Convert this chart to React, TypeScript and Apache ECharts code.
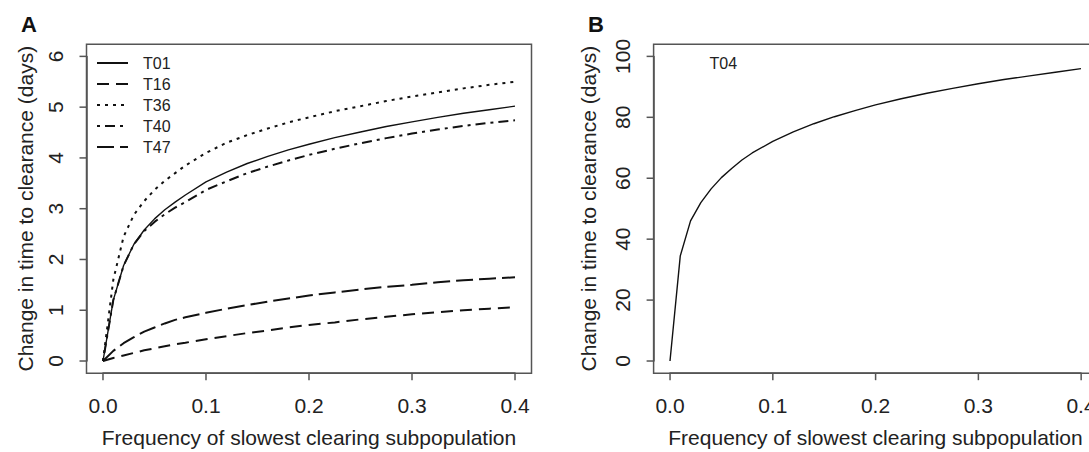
import React, { useEffect, useRef } from "react";
import * as echarts from "echarts";

const xValues = [0, 0.01, 0.02, 0.03, 0.04, 0.05, 0.06, 0.07, 0.08, 0.1, 0.12, 0.14, 0.16, 0.18, 0.2, 0.225, 0.25, 0.275, 0.3, 0.325, 0.35, 0.375, 0.4];
const t01 = [0, 1.2, 1.88, 2.3, 2.58, 2.8, 2.98, 3.13, 3.27, 3.53, 3.72, 3.89, 4.03, 4.16, 4.27, 4.4, 4.51, 4.62, 4.71, 4.8, 4.88, 4.95, 5.02];
const t16 = [0, 0.06, 0.11, 0.16, 0.21, 0.25, 0.29, 0.33, 0.36, 0.43, 0.49, 0.55, 0.6, 0.66, 0.71, 0.76, 0.82, 0.87, 0.92, 0.96, 1.0, 1.03, 1.06];
const t36 = [0, 1.6, 2.45, 2.88, 3.15, 3.37, 3.55, 3.7, 3.85, 4.1, 4.3, 4.45, 4.58, 4.7, 4.8, 4.92, 5.02, 5.12, 5.21, 5.29, 5.37, 5.44, 5.5];
const t40 = [0, 1.2, 1.88, 2.3, 2.56, 2.74, 2.89, 3.02, 3.13, 3.37, 3.54, 3.7, 3.83, 3.95, 4.06, 4.18, 4.29, 4.39, 4.48, 4.56, 4.63, 4.69, 4.74];
const t47 = [0, 0.2, 0.35, 0.47, 0.58, 0.66, 0.74, 0.81, 0.86, 0.95, 1.03, 1.1, 1.17, 1.23, 1.29, 1.35, 1.41, 1.46, 1.5, 1.55, 1.59, 1.62, 1.65];
const t04 = [0, 34.5, 46, 52, 56.5, 60.2, 63.2, 66, 68.3, 72.1, 75.2, 77.9, 80.2, 82.2, 84.1, 86.1, 87.9, 89.5, 91.0, 92.4, 93.6, 94.8, 96.0];

const xTicks = [0, 0.1, 0.2, 0.3, 0.4];
const yTicksA = [0, 1, 2, 3, 4, 5, 6];
const yTicksB = [0, 20, 40, 60, 80, 100];
const xRange = [0, 0.4];
const yRangeA = [0, 6];
const yRangeB = [0, 100];

const seriesNamesA = ["T01", "T16", "T36", "T40", "T47"];
const seriesValuesA = [t01, t16, t36, t40, t47];
const dashA: any[] = ["solid", [12, 7], [3, 5], [3, 5, 10, 5], [17, 6]];

const xTitle = "Frequency of slowest clearing subpopulation";
const yTitle = "Change in time to clearance (days)";

const FONT = "'Liberation Sans', Arial, Helvetica, sans-serif";
const TEXT = "#222";
const BOX = "#555";
const TICK_LEN = 7;

const BOX_A = { left: 86.5, top: 44.2, width: 445, height: 329 };
const BOX_B = { left: 653.6, top: 44.2, width: 444, height: 329 };

// R-style 4% axis extension
function ext(r: number[]) {
  const d = (r[1] - r[0]) * 0.04;
  return [r[0] - d, r[1] + d];
}

function pairs(ys: number[]) {
  return xValues.map((x, i) => [x, ys[i]]);
}

function xAxisFor(gridIndex: number) {
  return {
    type: "value",
    gridIndex,
    min: xRange[0],
    max: xRange[1],
    interval: 0.1,
    offset: 12,
    axisLine: { show: true, onZero: false, lineStyle: { color: BOX, width: 1.5 } },
    splitLine: { show: false },
    axisTick: { show: false },
    axisLabel: {
      formatter: (v: number) => v.toFixed(1),
      fontSize: 21,
      fontFamily: FONT,
      color: TEXT,
      margin: 22,
      showMinLabel: true,
      showMaxLabel: true,
    },
    name: xTitle,
    nameLocation: "middle",
    nameGap: 54,
    nameTextStyle: { fontSize: 21, fontFamily: FONT, color: TEXT },
  };
}

function yAxisFor(gridIndex: number, range: number[], step: number, nameGap: number) {
  return {
    type: "value",
    gridIndex,
    min: range[0],
    max: range[1],
    interval: step,
    offset: 16,
    axisLine: { show: true, onZero: false, lineStyle: { color: BOX, width: 1.5 } },
    splitLine: { show: false },
    axisTick: { show: false },
    axisLabel: {
      rotate: 90,
      fontSize: 21,
      fontFamily: FONT,
      color: TEXT,
      margin: 21,
      showMinLabel: true,
      showMaxLabel: true,
    },
    name: yTitle,
    nameLocation: "middle",
    nameGap,
    nameTextStyle: { fontSize: 21, fontFamily: FONT, color: TEXT },
  };
}

function hiddenAxis(gridIndex: number, r: number[]) {
  const e = ext(r);
  return { type: "value", gridIndex, show: false, min: e[0], max: e[1] };
}

// tick marks as thin rect symbols sitting on the frame, offset outward
function tickMarks(gridIndex: number, yRange: number[], yTicks: number[]) {
  const ex = ext(xRange);
  const ey = ext(yRange);
  const common = {
    type: "scatter",
    xAxisIndex: gridIndex,
    yAxisIndex: gridIndex,
    symbol: "rect",
    clip: false,
    silent: true,
    z: 5,
    itemStyle: { color: BOX, opacity: 1 },
    emphasis: { disabled: true },
    tooltip: { show: false },
  };
  return [
    {
      ...common,
      data: xTicks.map((v) => [v, ey[0]]),
      symbolSize: [1.5, TICK_LEN],
      symbolOffset: [0, TICK_LEN / 2],
    },
    {
      ...common,
      data: yTicks.map((v) => [ex[0], v]),
      symbolSize: [TICK_LEN, 1.5],
      symbolOffset: [-TICK_LEN / 2, 0],
    },
  ];
}

export default function App() {
  const ref = useRef<HTMLDivElement>(null);
  useEffect(() => {
    if (!ref.current) return;
    const chart = echarts.init(ref.current, undefined, { renderer: "svg" });
    const plain = { show: false, containLabel: false, outerBoundsMode: "none" };
    const boxGrid = {
      show: true,
      borderColor: BOX,
      borderWidth: 1.5,
      backgroundColor: "transparent",
      containLabel: false,
      outerBoundsMode: "none",
    };
    const seriesA = seriesNamesA.map((name, i) => ({
      name,
      type: "line",
      xAxisIndex: 0,
      yAxisIndex: 0,
      data: pairs(seriesValuesA[i]),
      showSymbol: false,
      symbol: "none",
      smooth: false,
      clip: false,
      lineStyle: { color: "#111", width: i === 0 ? 1.4 : 2, type: dashA[i] },
      itemStyle: { color: "#111" },
      emphasis: { disabled: true },
    }));
    const option: any = {
      animation: false,
      backgroundColor: "#fff",
      title: [
        { text: "A", left: 16, top: 8, textStyle: { fontSize: 22, fontWeight: "bold", fontFamily: FONT, color: "#111" } },
        { text: "B", left: 583, top: 8, textStyle: { fontSize: 22, fontWeight: "bold", fontFamily: FONT, color: "#111" } },
      ],
      legend: [
        {
          data: seriesNamesA,
          orient: "vertical",
          left: 96,
          top: 55,
          padding: 0,
          itemWidth: 31,
          itemHeight: 14,
          itemGap: 5,
          itemStyle: { opacity: 0 },
          lineStyle: { width: 2 },
          textStyle: { fontSize: 16, fontFamily: FONT, color: TEXT, padding: [0, 0, 0, 10] },
          selectedMode: false,
        },
        {
          data: ["T04"],
          orient: "vertical",
          left: 662.5,
          top: 55,
          padding: 0,
          itemWidth: 31,
          itemHeight: 14,
          itemStyle: { opacity: 0 },
          lineStyle: { opacity: 0 },
          textStyle: { fontSize: 16, fontFamily: FONT, color: TEXT, padding: [0, 0, 0, 10] },
          selectedMode: false,
        },
      ],
      grid: [
        { ...plain, left: 103, top: 56.4, width: 412, height: 304.6 },
        { ...plain, left: 670, top: 56.4, width: 411, height: 304.6 },
        { ...boxGrid, ...BOX_A },
        { ...boxGrid, ...BOX_B },
      ],
      xAxis: [xAxisFor(0), xAxisFor(1), hiddenAxis(2, xRange), hiddenAxis(3, xRange)],
      yAxis: [
        yAxisFor(0, yRangeA, 1, 51),
        yAxisFor(1, yRangeB, 20, 55),
        hiddenAxis(2, yRangeA),
        hiddenAxis(3, yRangeB),
      ],
      series: [
        ...seriesA,
        {
          name: "T04",
          type: "line",
          xAxisIndex: 1,
          yAxisIndex: 1,
          data: pairs(t04),
          showSymbol: false,
          symbol: "none",
          clip: false,
          lineStyle: { color: "#111", width: 1.4, type: "solid" },
          itemStyle: { color: "#111" },
          emphasis: { disabled: true },
        },
        ...tickMarks(2, yRangeA, yTicksA),
        ...tickMarks(3, yRangeB, yTicksB),
      ],
    };
    chart.setOption(option);
    return () => chart.dispose();
  }, []);
  return (
    <div
      ref={ref}
      style={{ position: "fixed", left: 0, top: 0, width: 1089, height: 452, background: "#fff" }}
    />
  );
}
